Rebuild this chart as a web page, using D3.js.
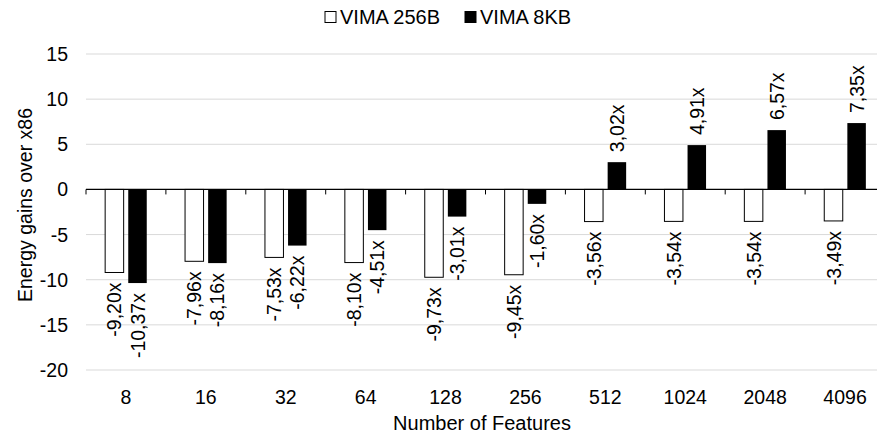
<!DOCTYPE html>
<html>
<head>
<meta charset="utf-8">
<script src="https://cdn.jsdelivr.net/npm/d3@7/dist/d3.min.js"></script>
<style>
  html, body { margin: 0; padding: 0; background: #fff; }
  svg { display: block; }
  text { font-family: "Liberation Sans", Arial, sans-serif; fill: #000; }
</style>
</head>
<body>
<svg id="chart" width="877" height="439"></svg>
<script>
// Number of features per run
const categories = ["8", "16", "32", "64", "128", "256", "512", "1024", "2048", "4096"];
// Energy gains over x86 for each VIMA cache size
const vima256B = [-9.20, -7.96, -7.53, -8.10, -9.73, -9.45, -3.56, -3.54, -3.54, -3.49];
const vima8KB  = [-10.37, -8.16, -6.22, -4.51, -3.01, -1.60, 3.02, 4.91, 6.57, 7.35];
const seriesNames = ["VIMA 256B", "VIMA 8KB"];
const yTicks = [15, 10, 5, 0, -5, -10, -15, -20];

const fmt = v => v.toFixed(2).replace(".", ",") + "x";
const FS = "19.5px";

const svg = d3.select("#chart");
const margin = { left: 86, right: -8, top: 54, bottom: 69 };
const W = 877, H = 439;

const x = d3.scaleBand()
  .domain(categories)
  .range([margin.left, W - margin.right])
  .paddingInner(0).paddingOuter(0);

const y = d3.scaleLinear()
  .domain([-20, 15])
  .range([H - margin.bottom, margin.top]);

// gridlines
svg.append("g")
  .selectAll("line")
  .data(yTicks.filter(t => t !== 0))
  .join("line")
  .attr("x1", margin.left).attr("x2", W)
  .attr("y1", d => y(d)).attr("y2", d => y(d))
  .attr("stroke", "#d9d9d9").attr("stroke-width", 1);

// y tick labels
svg.append("g")
  .selectAll("text")
  .data(yTicks)
  .join("text")
  .attr("x", 68).attr("y", d => y(d))
  .attr("text-anchor", "end")
  .attr("dominant-baseline", "central")
  .style("font-size", FS)
  .text(d => d);

// bars
const barW = 18.5, gap = 2.3;
const bw = x.bandwidth();
const groups = categories.map((c, i) => ({ c, a: vima256B[i], b: vima8KB[i] }));

svg.append("g")
  .selectAll("rect")
  .data(groups)
  .join("rect")
  .attr("x", d => x(d.c) + bw / 2 - gap - barW)
  .attr("y", d => Math.min(y(d.a), y(0)))
  .attr("width", barW)
  .attr("height", d => Math.abs(y(d.a) - y(0)))
  .attr("fill", "#fff").attr("stroke", "#000").attr("stroke-width", 1);

svg.append("g")
  .selectAll("rect")
  .data(groups)
  .join("rect")
  .attr("x", d => x(d.c) + bw / 2 + gap)
  .attr("y", d => Math.min(y(d.b), y(0)))
  .attr("width", barW)
  .attr("height", d => Math.abs(y(d.b) - y(0)))
  .attr("fill", "#000");

// zero axis with category ticks
svg.append("line")
  .attr("x1", margin.left).attr("x2", W)
  .attr("y1", y(0)).attr("y2", y(0))
  .attr("stroke", "#000").attr("stroke-width", 1.2);
svg.append("g")
  .selectAll("line")
  .data(categories)
  .join("line")
  .attr("x1", d => x(d)).attr("x2", d => x(d))
  .attr("y1", y(0)).attr("y2", y(0) + 5)
  .attr("stroke", "#000");

// value labels, rotated
function addLabels(vals, offset) {
  svg.append("g")
    .selectAll("text")
    .data(categories.map((c, i) => ({ c, v: vals[i] })))
    .join("text")
    .attr("transform", d => {
      const cx = x(d.c) + bw / 2 + offset;
      const cy = d.v < 0 ? y(d.v) + 10 : y(d.v) - 10;
      return `translate(${cx},${cy}) rotate(-90)`;
    })
    .attr("text-anchor", d => d.v < 0 ? "end" : "start")
    .attr("dominant-baseline", "central")
    .style("font-size", FS)
    .text(d => fmt(d.v));
}
addLabels(vima256B, -gap - barW / 2);
addLabels(vima8KB, gap + barW / 2);

// x tick labels
svg.append("g")
  .selectAll("text")
  .data(categories)
  .join("text")
  .attr("x", d => x(d) + bw / 2)
  .attr("y", 404)
  .attr("text-anchor", "middle")
  .style("font-size", FS)
  .text(d => d);

// axis titles
svg.append("text")
  .attr("x", 482).attr("y", 430)
  .attr("text-anchor", "middle")
  .style("font-size", "20px")
  .text("Number of Features");

svg.append("text")
  .attr("transform", `translate(25,205) rotate(-90)`)
  .attr("text-anchor", "middle")
  .attr("dominant-baseline", "central")
  .style("font-size", FS)
  .text("Energy gains over x86");

// legend
const legend = svg.append("g");
const legendItems = [
  { name: seriesNames[0], fill: "#fff", x: 325 },
  { name: seriesNames[1], fill: "#000", x: 465 }
];
legendItems.forEach(it => {
  legend.append("rect")
    .attr("x", it.x).attr("y", 11.5).attr("width", 11).attr("height", 11)
    .attr("fill", it.fill).attr("stroke", "#000").attr("stroke-width", 1);
  legend.append("text")
    .attr("x", it.x + 15).attr("y", 17)
    .attr("dominant-baseline", "central")
    .style("font-size", "20px")
    .text(it.name);
});
</script>
</body>
</html>
